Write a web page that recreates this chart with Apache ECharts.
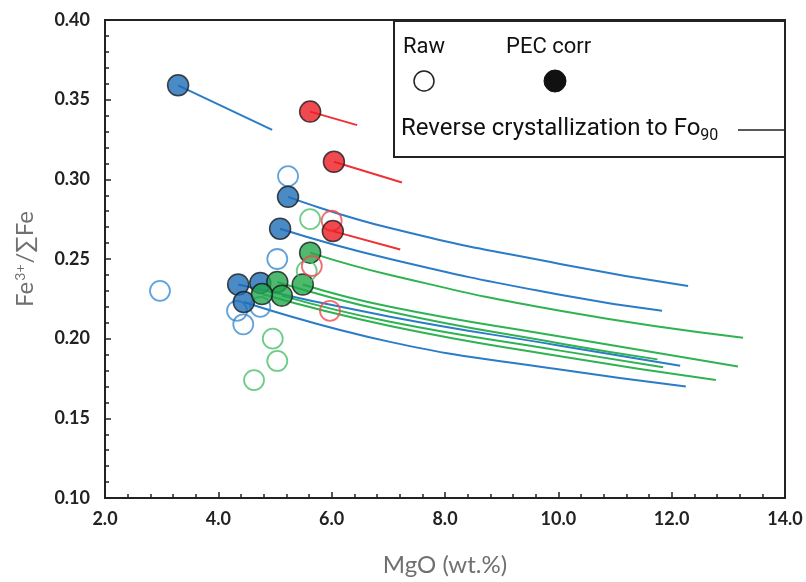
<!DOCTYPE html>
<html>
<head>
<meta charset="utf-8">
<script src="https://cdn.jsdelivr.net/npm/echarts@6/dist/echarts.min.js"></script>
<style>
  html, body { margin: 0; padding: 0; background: #fff; }
  #chart { width: 806px; height: 582px; }
</style>
</head>
<body>
<div id="chart"></div>
<script>
// MgO (wt.%) vs Fe3+/sumFe, raw / PEC-corrected melt inclusions
const xTicks = [2, 14, 2];
const yTicks = [0.10, 0.40, 0.05];

const blueRaw = [[2.97, 0.230], [4.33, 0.2175], [4.44, 0.209], [4.74, 0.220], [5.04, 0.250], [5.23, 0.302]];
const bluePec = [[3.29, 0.359], [5.23, 0.289], [5.09, 0.269], [4.35, 0.234], [4.74, 0.235], [4.45, 0.223]];
const blueRc = [
  [[3.29, 0.359], [4.95, 0.331]],
  [[5.23, 0.289], [7.03, 0.2694], [10.03, 0.2469], [12.29, 0.233]],
  [[5.09, 0.269], [7.03, 0.250], [10.03, 0.2275], [11.83, 0.2175]],
  [[4.35, 0.234], [7.03, 0.2138], [10.03, 0.1956], [12.15, 0.183]],
  [[4.45, 0.223], [7.03, 0.198], [10.03, 0.1806], [12.25, 0.170]]
];

const greenRaw = [[5.62, 0.275], [5.56, 0.2425], [4.96, 0.200], [5.04, 0.186], [4.63, 0.174]];
const greenPec = [[5.62, 0.254], [5.49, 0.234], [5.04, 0.2356], [5.12, 0.227], [4.77, 0.228]];
const greenRc = [
  [[5.62, 0.254], [7.03, 0.240], [10.03, 0.2175], [13.26, 0.2006]],
  [[5.49, 0.234], [7.03, 0.220], [10.03, 0.2013], [13.17, 0.1825]],
  [[5.04, 0.2356], [7.03, 0.2169], [10.03, 0.197], [11.75, 0.187]],
  [[5.12, 0.227], [7.03, 0.2106], [10.03, 0.1925], [11.85, 0.182]],
  [[4.77, 0.228], [7.03, 0.208], [10.03, 0.189], [12.78, 0.174]]
];

const redRaw = [[6.00, 0.274], [5.65, 0.2456], [5.97, 0.2175]];
const redPec = [[5.62, 0.3425], [6.04, 0.311], [6.02, 0.2675]];
const redRc = [
  [[5.62, 0.3425], [6.45, 0.334]],
  [[6.04, 0.311], [7.24, 0.298]],
  [[6.02, 0.2675], [7.21, 0.256]]
];

const colors = {
  blue: { fill: '#1d6db6', line: '#2b7cc6', raw: '#3d8bd1' },
  green: { fill: '#22a74b', line: '#2fb352', raw: '#4bbf69' },
  red: { fill: '#ec1c24', line: '#ef3136', raw: '#ef4a4f' }
};

const myChart = echarts.init(document.getElementById('chart'));

function lineSeries(paths, color) {
  return paths.map(p => ({
    type: 'line',
    data: p,
    smooth: 0.5,
    showSymbol: false,
    silent: true,
    lineStyle: { color: color, width: 2 },
    z: 2
  }));
}

function rawSeries(data, color) {
  return {
    type: 'scatter',
    data: data,
    symbolSize: 20,
    itemStyle: { color: 'rgba(255,255,255,0)', borderColor: color, borderWidth: 1.8 },
    silent: true,
    z: 3
  };
}

function pecSeries(data, color) {
  return {
    type: 'scatter',
    data: data,
    symbolSize: 21,
    itemStyle: { color: color, borderColor: '#1a1a1a', borderWidth: 1.5 },
    silent: true,
    z: 3
  };
}

const series = [].concat(
  lineSeries(blueRc, colors.blue.line),
  lineSeries(greenRc, colors.green.line),
  lineSeries(redRc, colors.red.line),
  [
    rawSeries(blueRaw, colors.blue.raw),
    pecSeries(bluePec, colors.blue.fill),
    pecSeries(greenPec, colors.green.fill),
    rawSeries(greenRaw, colors.green.raw),
    rawSeries(redRaw, colors.red.raw),
    pecSeries(redPec, colors.red.fill)
  ]
);

const labelStyle = { fontFamily: 'Lato', fontWeight: 'bold', fontSize: 18, color: '#222' };
const legendFont = 'Roboto';

const option = {
  animation: false,
  grid: { left: 105, top: 20, right: 21, bottom: 82, show: true, borderColor: '#222', borderWidth: 2 },
  xAxis: {
    type: 'value',
    min: xTicks[0], max: xTicks[1], interval: xTicks[2],
    name: 'MgO (wt.%)',
    nameLocation: 'middle',
    nameGap: 55,
    nameTextStyle: { fontFamily: 'Lato', fontSize: 24, color: '#707070' },
    axisLine: { lineStyle: { color: '#222', width: 2 } },
    axisTick: { inside: true, length: 6, lineStyle: { color: '#222', width: 1.5 } },
    minorTick: { show: true, splitNumber: 5, length: 4, lineStyle: { color: '#222', width: 1.5 } },
    splitLine: { show: false },
    axisLabel: Object.assign({ margin: 12, formatter: v => v.toFixed(1) }, labelStyle)
  },
  yAxis: {
    type: 'value',
    min: yTicks[0], max: yTicks[1], interval: yTicks[2],
    name: '{a|Fe}{s|3+}{a|/∑Fe}',
    nameLocation: 'middle',
    nameGap: 68,
    nameTextStyle: {
      rich: {
        a: { fontFamily: 'Lato', fontSize: 24, color: '#707070' },
        s: { fontFamily: 'Lato', fontSize: 14, color: '#707070', verticalAlign: 'top', padding: [0, 1, 8, 1] }
      }
    },
    axisLine: { lineStyle: { color: '#222', width: 2 } },
    axisTick: { inside: true, length: 6, lineStyle: { color: '#222', width: 1.5 } },
    minorTick: { show: true, splitNumber: 5, length: 4, lineStyle: { color: '#222', width: 1.5 } },
    splitLine: { show: false },
    axisLabel: Object.assign({ margin: 15, formatter: v => v.toFixed(2) }, labelStyle)
  },
  graphic: [
    {
      type: 'rect', left: 393, top: 20, z: 10,
      shape: { width: 391, height: 136 },
      style: { fill: '#fff', stroke: '#222', lineWidth: 2 }
    },
    {
      type: 'text', left: 403, top: 36, z: 11,
      style: { text: 'Raw', font: '22px ' + legendFont, fill: '#111' }
    },
    {
      type: 'text', left: 506, top: 36, z: 11,
      style: { text: 'PEC corr', font: '22px ' + legendFont, fill: '#111' }
    },
    {
      type: 'circle', z: 11,
      shape: { cx: 424, cy: 81, r: 10 },
      style: { fill: '#fff', stroke: '#222', lineWidth: 1.5 }
    },
    {
      type: 'circle', z: 11,
      shape: { cx: 555, cy: 81, r: 11 },
      style: { fill: '#111', stroke: '#111', lineWidth: 1 }
    },
    {
      type: 'text', left: 401, top: 117, z: 11,
      style: {
        text: '{a|Reverse crystallization to Fo}{s|90}',
        rich: {
          a: { font: '24px ' + legendFont, fill: '#111' },
          s: { font: '16px ' + legendFont, fill: '#111', padding: [14, 0, 0, 0] }
        }
      }
    },
    {
      type: 'line', z: 11,
      shape: { x1: 738, y1: 130, x2: 784, y2: 130 },
      style: { stroke: '#222', lineWidth: 1.5 }
    }
  ],
  series: series
};

myChart.setOption(option);
window.addEventListener('resize', () => {
  myChart.resize();
});
</script>
</body>
</html>
